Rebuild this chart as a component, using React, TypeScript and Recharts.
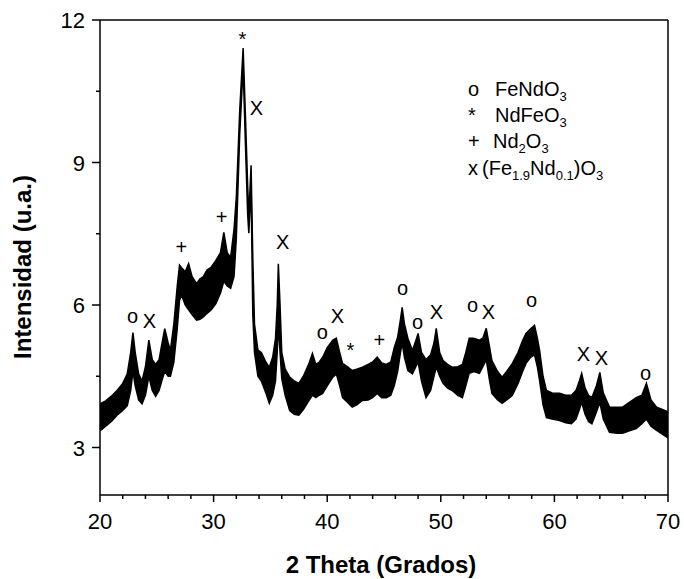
import React from "react";
import { ComposedChart, Area, Scatter, XAxis, YAxis, ReferenceLine } from "recharts";

// 2 theta positions (degrees) and the lower / upper edge of the noisy trace
const theta = [
  20.0, 20.5, 21.0, 21.5, 22.0, 22.4, 22.7, 22.9, 23.1, 23.4, 23.7, 24.0, 24.3, 24.6, 24.9,
  25.2, 25.5, 25.7, 26.0, 26.2, 26.5, 26.8, 27.0, 27.2, 27.5, 27.8, 28.1, 28.5, 28.8, 29.1,
  29.4, 29.8, 30.2, 30.6, 30.9, 31.2, 31.5, 31.8, 32.0, 32.3, 32.6, 32.8, 33.0, 33.1, 33.3,
  33.45, 33.6, 33.9, 34.2, 34.6, 34.9, 35.2, 35.45, 35.6, 35.7, 35.85, 36.0, 36.3, 36.7, 37.1,
  37.5, 37.9, 38.4, 38.7, 39.0, 39.3, 39.6, 40.0, 40.5, 40.8, 41.1, 41.35, 41.8, 42.2, 42.6,
  43.1, 43.6, 44.0, 44.4, 44.8, 45.2, 45.6, 45.9, 46.2, 46.45, 46.6, 46.8, 47.1, 47.5, 47.8,
  48.0, 48.3, 48.7, 49.1, 49.4, 49.6, 49.9, 50.2, 50.6, 51.0, 51.5, 51.9, 52.2, 52.5, 52.9,
  53.4, 53.7, 54.0, 54.3, 54.5, 55.0, 55.4, 55.8, 56.3, 56.8, 57.2, 57.5, 57.9, 58.25, 58.5,
  58.7, 59.0, 59.3, 59.8, 60.45, 61.0, 61.5, 61.9, 62.2, 62.4, 62.7, 63.0, 63.3, 63.7, 64.0,
  64.3, 64.85, 65.5, 66.0, 66.6, 67.2, 67.7, 68.1, 68.5, 69.0, 69.5, 70.0,
];
const lower = [
  3.35, 3.45, 3.55, 3.68, 3.78, 3.88, 4.2, 4.6, 4.3, 4.0, 3.92, 4.1, 4.5, 4.2, 4.08,
  4.2, 4.45, 4.6, 4.5, 4.5, 4.8, 5.5, 6.1, 6.2, 6.0, 5.9, 5.8, 5.68, 5.7, 5.75,
  5.82, 5.9, 6.03, 6.25, 6.5, 6.4, 6.35, 6.6, 7.4, 9.6, 11.0, 9.4, 7.9, 7.51, 8.5,
  5.8, 5.0, 4.5, 4.4, 4.15, 3.93, 4.1, 4.4, 5.0, 5.6, 5.0, 4.45, 4.1, 3.78, 3.7,
  3.68, 3.8, 3.99, 4.1, 4.05, 4.1, 4.14, 4.3, 4.48, 4.55, 4.3, 4.05, 3.95, 3.85, 3.9,
  3.99, 4.0, 4.05, 4.14, 4.05, 4.05, 4.1, 4.3, 4.6, 5.0, 5.2, 4.9, 4.62, 4.55, 4.7,
  4.8, 4.4, 4.05, 4.2, 4.5, 4.7, 4.5, 4.35, 4.25, 4.2, 4.1, 4.05, 4.3, 4.56, 4.6,
  4.56, 4.7, 4.85, 4.4, 4.14, 4.0, 3.93, 4.0, 4.1, 4.35, 4.6, 4.77, 4.9, 4.95, 4.7,
  4.4, 3.9, 3.63, 3.6, 3.57, 3.52, 3.5, 3.6, 3.8, 3.95, 3.7, 3.55, 3.5, 3.75, 3.95,
  3.6, 3.32, 3.3, 3.3, 3.35, 3.4, 3.5, 3.6, 3.45, 3.36, 3.28, 3.2,
];
const upper = [
  3.92, 3.98, 4.08, 4.2, 4.35, 4.55, 5.0, 5.42, 5.0, 4.55, 4.4, 4.7, 5.26, 4.85, 4.75,
  4.85, 5.25, 5.5, 5.2, 5.05, 5.6, 6.4, 6.84, 6.78, 6.7, 6.87, 6.6, 6.45, 6.55, 6.6,
  6.73, 6.8, 6.94, 7.1, 7.53, 7.1, 7.0, 7.6, 8.27, 10.1, 11.41, 10.0, 8.5, 7.9, 8.94,
  7.0, 5.6, 5.05, 5.0, 4.8, 4.69, 4.9, 5.3, 6.0, 6.87, 6.0, 5.0, 4.65, 4.48, 4.4,
  4.35, 4.5, 4.77, 4.98, 4.75, 4.8, 4.9, 5.1, 5.26, 5.3, 5.0, 4.77, 4.7, 4.62, 4.65,
  4.69, 4.75, 4.8, 4.9, 4.78, 4.75, 4.8, 5.1, 5.32, 5.7, 5.95, 5.6, 5.3, 5.04, 5.25,
  5.4, 5.0, 4.85, 4.95, 5.2, 5.51, 5.0, 4.83, 4.75, 4.69, 4.7, 4.75, 5.0, 5.3, 5.3,
  5.26, 5.3, 5.51, 5.1, 4.83, 4.6, 4.48, 4.6, 4.77, 5.0, 5.25, 5.4, 5.5, 5.57, 5.3,
  5.04, 4.5, 4.2, 4.15, 4.14, 4.1, 4.1, 4.2, 4.4, 4.56, 4.25, 4.1, 4.05, 4.3, 4.58,
  4.15, 3.85, 3.85, 3.85, 3.95, 4.05, 4.1, 4.35, 4.0, 3.85, 3.8, 3.75,
];

// phase markers written above the peaks
const markTheta = [
  32.54, 33.78, 30.7, 27.17, 36.07, 22.86, 24.36, 39.58, 40.9, 42.05,
  44.6, 46.63, 47.95, 49.62, 52.79, 54.2, 57.98, 62.56, 64.15, 68.02,
];
const markY = [
  11.68, 10.15, 7.85, 7.22, 7.32, 5.72, 5.66, 5.4, 5.76, 5.13,
  5.26, 6.31, 5.61, 5.85, 5.95, 5.85, 6.06, 4.96, 4.88, 4.52,
];
const markSymbol = [
  "*", "X", "+", "+", "X", "o", "X", "o", "X", "*",
  "+", "o", "o", "X", "o", "X", "o", "X", "X", "o",
];

const xTicks = [20, 22, 24, 26, 28, 30, 32, 34, 36, 38, 40, 42, 44, 46, 48, 50, 52, 54, 56, 58, 60, 62, 64, 66, 68, 70];
const yTicks = [3, 4.5, 6, 7.5, 9, 10.5, 12];

const data = theta.map((t, i) => ({ theta: t, band: [lower[i], upper[i]] }));
const marks = markTheta.map((t, i) => ({ theta: t, yPos: markY[i], s: markSymbol[i] }));

const FONT = '"Liberation Sans", Arial, Helvetica, sans-serif';

// baseline offset so each glyph is centred on its point
const glyphOffset: Record<string, number> = { X: 7, o: 5, "*": 11, "+": 7 };

const XTick = (p: any) => {
  const v = p.payload.value;
  const major = v % 10 === 0;
  return (
    <g>
      <line x1={p.x} x2={p.x} y1={p.y} y2={p.y + (major ? 7 : 4)} stroke="#000" strokeWidth={1.5} />
      {major && (
        <text x={p.x} y={p.y + 34} textAnchor="middle" fontSize={22} fontFamily={FONT} fill="#000">
          {v}
        </text>
      )}
    </g>
  );
};

const YTick = (p: any) => {
  const v = p.payload.value;
  const major = v % 3 === 0;
  return (
    <g>
      <line x1={p.x - (major ? 8 : 4)} x2={p.x} y1={p.y} y2={p.y} stroke="#000" strokeWidth={1.5} />
      {major && (
        <text x={p.x - 15} y={p.y + 8} textAnchor="end" fontSize={22} fontFamily={FONT} fill="#000">
          {v}
        </text>
      )}
    </g>
  );
};

const MarkShape = (p: any) => (
  <text
    x={p.cx}
    y={p.cy + (glyphOffset[p.payload.s] || 7)}
    textAnchor="middle"
    fontSize={20}
    fontFamily={FONT}
    fill="#000"
  >
    {p.payload.s}
  </text>
);

const sub = { fontSize: 13 };

export default function App() {
  return (
    <div style={{ position: "absolute", left: 0, top: 0, width: 684, height: 579, background: "#fff" }}>
      <ComposedChart
        width={684}
        height={579}
        data={data}
        margin={{ top: 20, right: 16, bottom: 0, left: 0 }}
        style={{ fontFamily: FONT }}
      >
        <XAxis
          dataKey="theta"
          type="number"
          domain={[20, 70]}
          ticks={xTicks}
          interval={0}
          height={84}
          tickSize={0}
          tickMargin={0}
          tickLine={false}
          tick={<XTick />}
          axisLine={{ stroke: "#000", strokeWidth: 1.5 }}
          allowDataOverflow
        />
        <YAxis
          type="number"
          domain={[2, 12]}
          ticks={yTicks}
          interval={0}
          width={100}
          tickSize={0}
          tickMargin={0}
          tickLine={false}
          tick={<YTick />}
          axisLine={{ stroke: "#000", strokeWidth: 1.5 }}
          allowDataOverflow
        />
        <ReferenceLine y={12} stroke="#000" strokeWidth={1.5} />
        <ReferenceLine x={70} stroke="#000" strokeWidth={1.5} />
        <Area
          dataKey="band"
          type="linear"
          stroke="#000"
          strokeWidth={1.5}
          fill="#000"
          fillOpacity={1}
          dot={false}
          activeDot={false}
          isAnimationActive={false}
        />
        <Scatter data={marks} dataKey="yPos" shape={<MarkShape />} isAnimationActive={false} />
      </ComposedChart>
      <svg
        width={684}
        height={579}
        style={{ position: "absolute", left: 0, top: 0, pointerEvents: "none" }}
        fontFamily={FONT}
      >
        <text x={381} y={573} textAnchor="middle" fontSize={24} fontWeight="bold">
          2 Theta (Grados)
        </text>
        <text x={31} y={267} textAnchor="middle" fontSize={24} fontWeight="bold" transform="rotate(-90 31 267)">
          Intensidad (u.a.)
        </text>
        <g fontSize={20}>
          <text x={468} y={96}>o</text>
          <text x={495} y={96}>
            FeNdO<tspan {...sub} dy={5}>3</tspan>
          </text>
          <text x={468} y={122}>*</text>
          <text x={495} y={122}>
            NdFeO<tspan {...sub} dy={5}>3</tspan>
          </text>
          <text x={468} y={148}>+</text>
          <text x={493} y={148}>
            Nd<tspan {...sub} dy={5}>2</tspan>
            <tspan dy={-5}>O</tspan>
            <tspan {...sub} dy={5}>3</tspan>
          </text>
          <text x={468} y={175}>x</text>
          <text x={482} y={175}>
            (Fe<tspan {...sub} dy={5}>1.9</tspan>
            <tspan dy={-5}>Nd</tspan>
            <tspan {...sub} dy={5}>0.1</tspan>
            <tspan dy={-5}>)O</tspan>
            <tspan {...sub} dy={5}>3</tspan>
          </text>
        </g>
      </svg>
    </div>
  );
}
